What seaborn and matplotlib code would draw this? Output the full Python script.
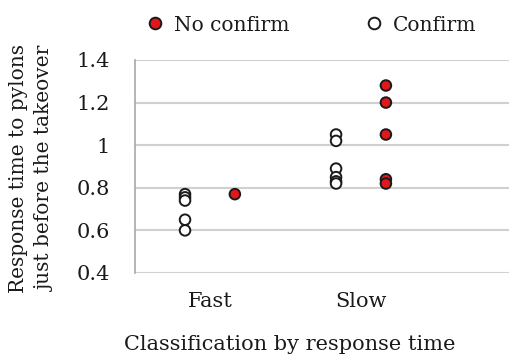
import numpy as np
import pandas as pd
import matplotlib
matplotlib.use("Agg")
import matplotlib.pyplot as plt
import seaborn as sns

# Values
categories = ["Fast", "Slow"]
groups = ["No confirm", "Confirm"]
fast_no_confirm = [0.77]
fast_confirm = [0.77, 0.755, 0.74, 0.65, 0.60]
slow_no_confirm = [1.28, 1.20, 1.05, 0.84, 0.82]
slow_confirm = [1.05, 1.02, 0.89, 0.85, 0.83, 0.82]
y_ticks = [0.4, 0.6, 0.8, 1.0, 1.2, 1.4]
y_tick_labels = ["0.4", "0.6", "0.8", "1", "1.2", "1.4"]

# long-form table
rows = []
for cat, grp, vals in [("Fast", "No confirm", fast_no_confirm),
                       ("Fast", "Confirm", fast_confirm),
                       ("Slow", "No confirm", slow_no_confirm),
                       ("Slow", "Confirm", slow_confirm)]:
    for v in vals:
        rows.append({"cls": cat, "group": grp, "rt": v})
df = pd.DataFrame(rows)

# dodge the two groups around each category position
dodge = {"Confirm": -0.165, "No confirm": 0.165}
df["xpos"] = df["cls"].map({c: i for i, c in enumerate(categories)}) + df["group"].map(dodge)

sns.set_style("white")
plt.rcParams["font.family"] = ["DejaVu Serif"]
txt = "#1a1a1a"

fig = plt.figure(figsize=(5.09, 3.59), dpi=100)
ax = fig.add_axes([0.265, 0.2396, 0.735, 0.5934])

sns.scatterplot(data=df, x="xpos", y="rt", hue="group", hue_order=groups,
                palette={"No confirm": "#e3161b", "Confirm": "#ffffff"},
                edgecolor="#1a1a1a", linewidth=1.4, s=58, ax=ax, zorder=3)

ax.set_ylim(0.4, 1.4)
ax.set_xlim(-0.497, 1.98)
ax.set_yticks(y_ticks)
ax.set_yticklabels(y_tick_labels)
ax.set_xticks(range(len(categories)))
ax.set_xticklabels(categories)
ax.yaxis.grid(True, color="#d0d0d0", linewidth=1.5)
ax.set_axisbelow(True)

for side in ["top", "right", "bottom"]:
    ax.spines[side].set_visible(False)
ax.spines["left"].set_color("#a8a8a8")
ax.spines["left"].set_linewidth(1.2)

ax.tick_params(axis="y", length=8, width=1.2, color="#a8a8a8", pad=10,
               labelsize=15, labelcolor=txt)
ax.tick_params(axis="x", length=0, pad=14, labelsize=15, labelcolor=txt)

ax.set_xlabel("Classification by response time", fontsize=15, color=txt, va="center")
ax.xaxis.set_label_coords(0.414, -0.338)
ax.set_ylabel("Response time to pylons\njust before the takeover", fontsize=14.5,
              color=txt, va="center", linespacing=1.55)
ax.yaxis.set_label_coords(-0.276, 0.49)

ax.legend(loc="center", bbox_to_anchor=(0.47, 1.164), ncol=2, frameon=False,
          fontsize=14.5, handlelength=1.0, handletextpad=0.45, columnspacing=3.7,
          markerscale=1.1, labelcolor=txt)

fig.savefig("out.png", dpi=100)
